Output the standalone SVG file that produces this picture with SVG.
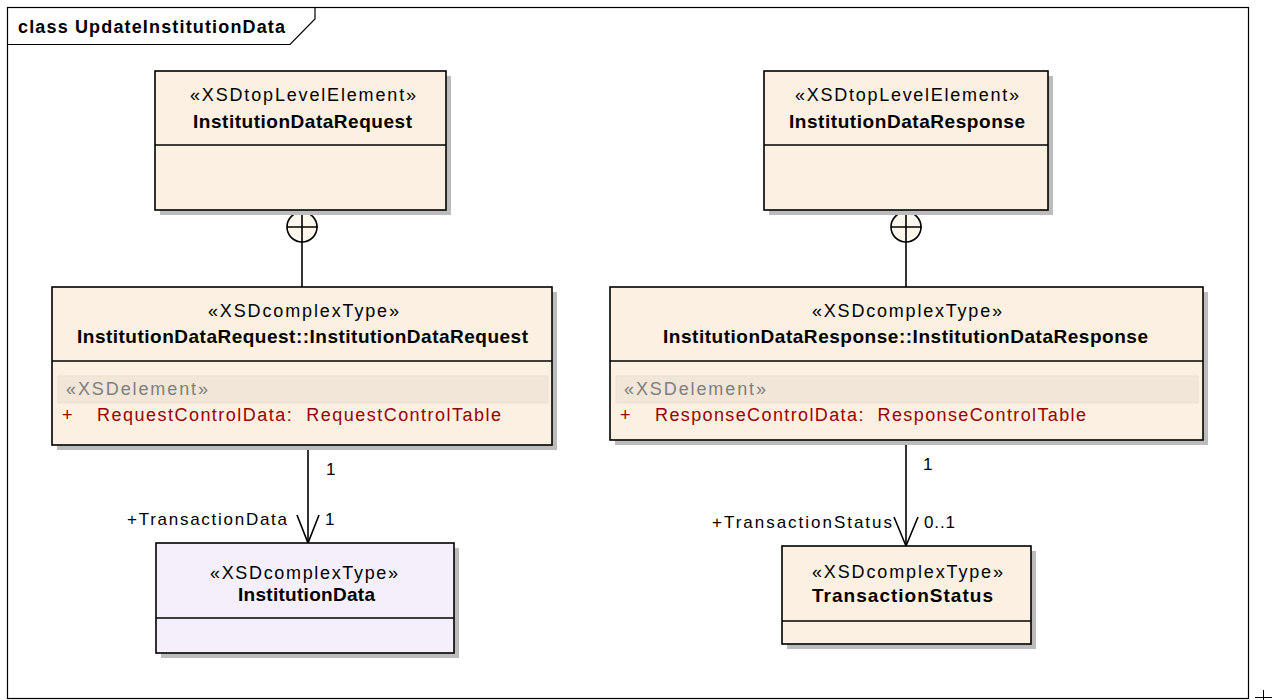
<svg xmlns="http://www.w3.org/2000/svg" width="1273" height="700" viewBox="0 0 1273 700">
<defs>
<style>
.frame{fill:none;stroke:#000;stroke-width:1.2}
.box{fill:#fbf0e2;stroke:#000;stroke-width:1.6}
.box2{fill:#f4effb;stroke:#000;stroke-width:1.6}
.shadow{fill:#bcbcbc}
.div{stroke:#000;stroke-width:1.6}
.band{fill:#f1e6d8;stroke:#ebe0d2;stroke-width:1}
.con{fill:none;stroke:#000;stroke-width:1.6}
.st{font-family:"Liberation Sans",Arial,sans-serif;font-size:18px;fill:#000}
.nm{font-family:"Liberation Sans",Arial,sans-serif;font-size:19px;font-weight:bold;fill:#000}
.el{font-family:"Liberation Sans",Arial,sans-serif;font-size:18px;fill:#7f7f7f}
.at{font-family:"Liberation Sans",Arial,sans-serif;font-size:18px;fill:#990000}
.lb{font-family:"Liberation Sans",Arial,sans-serif;font-size:17px;fill:#000}
.tt{font-family:"Liberation Sans",Arial,sans-serif;font-size:18px;font-weight:bold;fill:#000}
</style>
</defs>
<rect width="1273" height="700" fill="#fff"/>
<g id="frame">
<rect class="frame" x="7.5" y="7.5" width="1241" height="691"/>
<path class="frame" d="M7.5,44.5 L290,44.5 L315,19 L315,7.5"/>
<text class="tt" x="18" y="33" textLength="267">class UpdateInstitutionData</text>
<path d="M1255,697.5 L1272,697.5 M1263.5,690 L1263.5,700" stroke="#000" stroke-width="1"/>
</g>
<g id="connectors">
<line class="con" x1="302" y1="242" x2="302" y2="287"/>
<circle class="con" cx="302" cy="227" r="15" style="fill:#fdf6ec"/>
<path class="con" d="M302,212 L302,242 M287,227 L318,227"/>
<line class="con" x1="906" y1="242" x2="906" y2="287"/>
<circle class="con" cx="906" cy="227" r="15" style="fill:#fdf6ec"/>
<path class="con" d="M906,212 L906,242 M891,227 L922,227"/>
<line class="con" x1="308" y1="445" x2="308" y2="543"/>
<polyline class="con" points="297,515 308,543 319,515"/>
<text class="lb" x="326" y="475">1</text>
<text class="lb" x="127" y="525" textLength="160">+TransactionData</text>
<text class="lb" x="325" y="525">1</text>
<line class="con" x1="906" y1="440" x2="906" y2="546"/>
<polyline class="con" points="894,517 906,546 918,517"/>
<text class="lb" x="923" y="470">1</text>
<text class="lb" x="712" y="528" textLength="180">+TransactionStatus</text>
<text class="lb" x="924" y="528" textLength="31">0..1</text>
</g>
<g id="InstitutionDataRequest">
<rect class="shadow" x="160" y="76" width="291" height="139"/>
<rect class="box" x="155" y="71" width="291" height="139"/>
<line class="div" x1="155" y1="145" x2="446" y2="145"/>
<text class="st" x="190" y="101" textLength="226">«XSDtopLevelElement»</text>
<text class="nm" x="193" y="128" textLength="219">InstitutionDataRequest</text>
</g>
<g id="InstitutionDataResponse">
<rect class="shadow" x="769" y="76" width="284" height="139"/>
<rect class="box" x="764" y="71" width="284" height="139"/>
<line class="div" x1="764" y1="145" x2="1048" y2="145"/>
<text class="st" x="795" y="101" textLength="224">«XSDtopLevelElement»</text>
<text class="nm" x="789" y="128" textLength="236">InstitutionDataResponse</text>
</g>
<g id="RequestType">
<rect class="shadow" x="57" y="292" width="500" height="158"/>
<rect class="box" x="52" y="287" width="500" height="158"/>
<line class="div" x1="52" y1="361" x2="552" y2="361"/>
<rect class="band" x="58" y="376" width="490" height="27"/>
<text class="st" x="208" y="317" textLength="191">«XSDcomplexType»</text>
<text class="nm" x="77" y="343" textLength="451">InstitutionDataRequest::InstitutionDataRequest</text>
<text class="el" x="66" y="395" textLength="142">«XSDelement»</text>
<text class="at" x="62" y="421">+</text>
<text class="at" x="97" y="421" textLength="404" xml:space="preserve">RequestControlData:  RequestControlTable</text>
</g>
<g id="ResponseType">
<rect class="shadow" x="615" y="292" width="593" height="153"/>
<rect class="box" x="610" y="287" width="593" height="153"/>
<line class="div" x1="610" y1="361" x2="1203" y2="361"/>
<rect class="band" x="616" y="376" width="582" height="27"/>
<text class="st" x="812" y="317" textLength="190">«XSDcomplexType»</text>
<text class="nm" x="663" y="343" textLength="485">InstitutionDataResponse::InstitutionDataResponse</text>
<text class="el" x="624" y="395" textLength="142">«XSDelement»</text>
<text class="at" x="620" y="421">+</text>
<text class="at" x="655" y="421" textLength="431" xml:space="preserve">ResponseControlData:  ResponseControlTable</text>
</g>
<g id="InstitutionData">
<rect class="shadow" x="161" y="548" width="298" height="110"/>
<rect class="box2" x="156" y="543" width="298" height="110"/>
<line class="div" x1="156" y1="618" x2="454" y2="618"/>
<text class="st" x="210" y="579" textLength="188">«XSDcomplexType»</text>
<text class="nm" x="238" y="601" textLength="137">InstitutionData</text>
</g>
<g id="TransactionStatus">
<rect class="shadow" x="787" y="551" width="249" height="98"/>
<rect class="box" x="782" y="546" width="249" height="98"/>
<line class="div" x1="782" y1="621" x2="1031" y2="621"/>
<text class="st" x="812" y="578" textLength="191">«XSDcomplexType»</text>
<text class="nm" x="812" y="602" textLength="181">TransactionStatus</text>
</g>
</svg>
